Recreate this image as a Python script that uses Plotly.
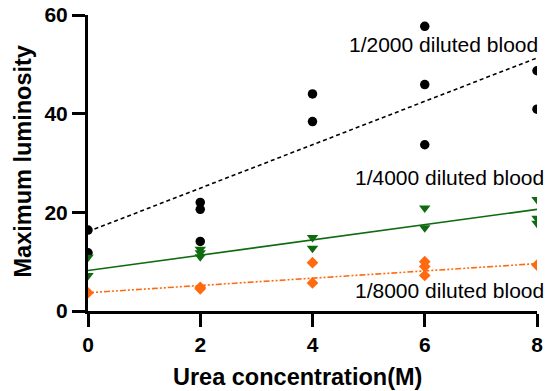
import plotly.graph_objects as go

# Data
x_2000 = [0, 0, 2, 2, 2, 4, 4, 6, 6, 6, 8, 8]
y_2000 = [16.4, 11.8, 22.0, 20.6, 14.1, 44.0, 38.4, 57.7, 45.9, 33.7, 48.7, 40.9]

x_4000 = [0, 0, 2, 2, 2, 4, 4, 6, 6, 8, 8, 8]
y_4000 = [10.9, 7.2, 12.5, 11.8, 11.0, 14.9, 12.7, 20.9, 16.9, 22.6, 18.8, 17.8]

x_8000 = [0, 2, 2, 4, 4, 6, 6, 6, 8]
y_8000 = [3.7, 4.5, 4.8, 9.8, 5.7, 10.0, 9.0, 7.2, 9.3]

# Fitted line end values (x = 0 and x = 8)
fit_x = [0, 8]
fit_2000 = [16.1, 51.3]
fit_4000 = [8.2, 20.6]
fit_8000 = [3.7, 9.6]

labels = ["1/2000 diluted blood", "1/4000 diluted blood", "1/8000 diluted blood"]
label_y = [54.0, 27.1, 4.2]

x_ticks = [0, 2, 4, 6, 8]
y_ticks = [0, 20, 40, 60]

BLACK = "#000000"
GREEN = "#0f6b0f"
ORANGE = "#ff6a10"
FONT = "Liberation Sans, Arial"

fig = go.Figure()
fig.add_trace(go.Scatter(x=fit_x, y=fit_2000, mode="lines",
                         line=dict(color=BLACK, width=1.6, dash="4px,3px")))
fig.add_trace(go.Scatter(x=fit_x, y=fit_4000, mode="lines",
                         line=dict(color=GREEN, width=1.6)))
fig.add_trace(go.Scatter(x=fit_x, y=fit_8000, mode="lines",
                         line=dict(color=ORANGE, width=1.6, dash="6px,2px,2px,2px,2px,2px")))

fig.add_trace(go.Scatter(x=x_2000, y=y_2000, mode="markers",
                         marker=dict(symbol="circle", size=9.5, color=BLACK)))
fig.add_trace(go.Scatter(x=x_4000, y=y_4000, mode="markers",
                         marker=dict(symbol="triangle-down", size=10, color=GREEN)))
fig.add_trace(go.Scatter(x=x_8000, y=y_8000, mode="markers",
                         marker=dict(symbol="diamond", size=9, color=ORANGE)))

xshifts = [3, 9, 9]
for lab, yv, xs in zip(labels, label_y, xshifts):
    fig.add_annotation(x=8, y=yv, xref="x", yref="y", text=lab, showarrow=False,
                       xanchor="right", yanchor="middle", xshift=xs,
                       font=dict(family=FONT, size=21, color="#000"))

# Axis titles
fig.add_annotation(x=0.4655, y=-0.223, xref="paper", yref="paper", text="Urea concentration(M)",
                   showarrow=False, xanchor="center", yanchor="middle",
                   font=dict(family=FONT, size=23.5, color="#000", weight="bold"))
fig.add_annotation(x=-0.1448, y=0.505, xref="paper", yref="paper", text="Maximum luminosity",
                   showarrow=False, xanchor="center", yanchor="middle", textangle=-90,
                   font=dict(family=FONT, size=23.5, color="#000", weight="bold"))

axis_common = dict(showgrid=False, zeroline=False, showline=True, linecolor="#000",
                   linewidth=3, ticks="outside", ticklen=13, tickwidth=3, tickcolor="#000",
                   automargin=False,
                   tickfont=dict(family=FONT, size=21, color="#000", weight="bold"))

fig.update_layout(
    width=550, height=391,
    margin=dict(l=88, r=13, t=15, b=80),
    paper_bgcolor="white", plot_bgcolor="white",
    showlegend=False,
    xaxis=dict(range=[0, 8], tickvals=x_ticks, ticklabelstandoff=0, **axis_common),
    yaxis=dict(range=[0, 60], tickvals=y_ticks, ticklabelstandoff=0, **axis_common),
)

fig.write_html("out.html")
